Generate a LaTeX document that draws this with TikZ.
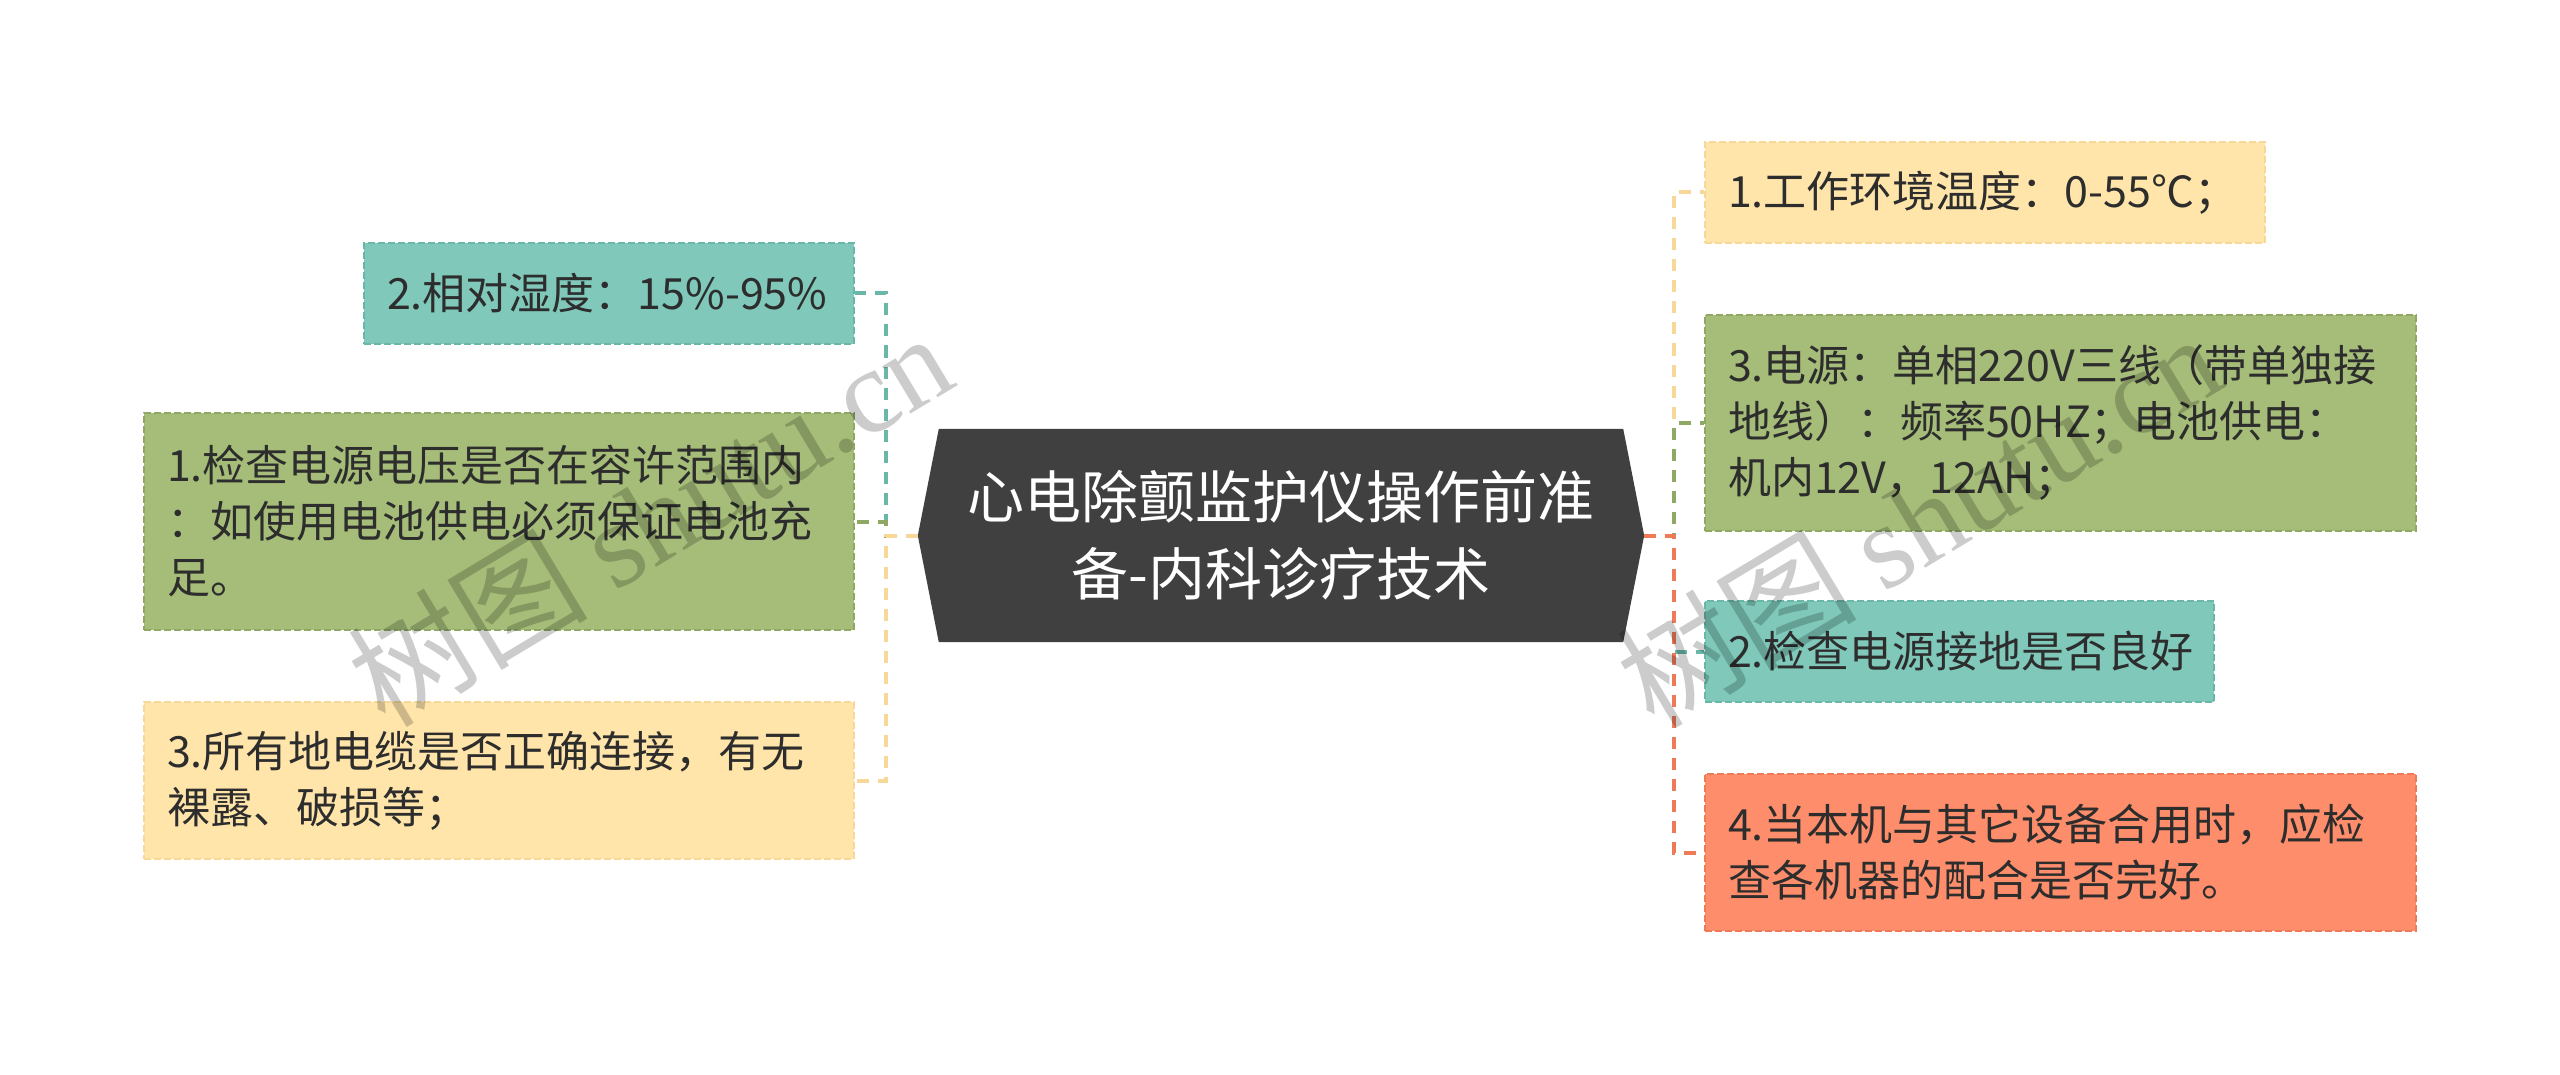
\documentclass[tikz,border=0pt]{standalone}
\usepackage{fontspec}
\setmainfont{Noto Sans CJK SC}
\newfontfamily\wmser{Liberation Serif}
\usetikzlibrary{calc,backgrounds}
\definecolor{textc}{HTML}{2D2D2D}
\definecolor{centralc}{HTML}{404040}
\definecolor{tealf}{HTML}{7FC8BA}
\definecolor{tealb}{HTML}{68B7A7}
\definecolor{greenf}{HTML}{A5BD78}
\definecolor{greenb}{HTML}{8FA964}
\definecolor{yellowf}{HTML}{FFE5AA}
\definecolor{yellowb}{HTML}{F7D898}
\definecolor{salmonf}{HTML}{FE8E6B}
\definecolor{salmonb}{HTML}{EE7A58}
\tikzset{
  box/.style={draw, line width=2pt, dash pattern=on 7pt off 3pt, text=textc,
    font=\fontsize{43}{56}\selectfont, align=left, inner xsep=23pt, inner ysep=0pt, anchor=center},
  conn/.style={line width=4pt, dash pattern=on 12pt off 9pt},
  wm/.style={text=black, opacity=0.2, rotate=31, font=\fontsize{120}{120}\selectfont},
}
\begin{document}
\begin{tikzpicture}[x=1pt,y=-1pt]
\useasboundingbox (0,0) rectangle (2560,1075);
% central
\node[minimum width=726pt, minimum height=213pt, align=center, text=white,
  font=\fontsize{57}{77}\selectfont, inner sep=0pt] (c) at (1281,535.5)
  {心电除颤监护仪操作前准\\备-内科诊疗技术};
\begin{scope}[on background layer]
\fill[centralc] ($(c.north west)+(21,0)$) -- ($(c.north east)+(-21,0)$) -- (c.east)
  -- ($(c.south east)+(-21,0)$) -- ($(c.south west)+(21,0)$) -- (c.west) -- cycle;
\end{scope}
% left boxes
\node[box, fill=tealf, draw=tealb, minimum width=490pt, text width=444pt, minimum height=101pt] (L1) at (609,293.5)
  {2.相对湿度：15\%-95\%};
\node[box, fill=greenf, draw=greenb, minimum width=710pt, text width=664pt, minimum height=217pt] (L2) at (499,521.5)
  {1.检查电源电压是否在容许范围内\\：如使用电池供电必须保证电池充\\足。};
\node[box, fill=yellowf, draw=yellowb, minimum width=710pt, text width=664pt, minimum height=157pt] (L3) at (499,780.5)
  {3.所有地电缆是否正确连接，有无\\裸露、破损等；};
% right boxes
\node[box, fill=yellowf, draw=yellowb, minimum width=560pt, text width=514pt, minimum height=101pt] (R1) at (1985,192.5)
  {1.工作环境温度：0-55℃；};
\node[box, fill=greenf, draw=greenb, minimum width=711pt, text width=665pt, minimum height=216pt] (R2) at (2060.5,423)
  {3.电源：单相220V三线（带单独接\\地线）：频率50HZ；电池供电：\\机内12V，12AH；};
\node[box, fill=tealf, draw=tealb, minimum width=509pt, text width=463pt, minimum height=101pt] (R3) at (1959.5,651.5)
  {2.检查电源接地是否良好};
\node[box, fill=salmonf, draw=salmonb, minimum width=711pt, text width=665pt, minimum height=157pt] (R4) at (2060.5,852.5)
  {4.当本机与其它设备合用时，应检\\查各机器的配合是否完好。};
% connectors left
\draw[conn, draw=tealb] (c.west) -- ++(-32,0) |- (L1.east);
\draw[conn, draw=greenb] (c.west) -- ++(-32,0) |- (L2.east);
\draw[conn, draw=yellowb] (c.west) -- ++(-32,0) |- (L3.east);
% connectors right
\draw[conn, draw=yellowb] (c.east) -- ++(30,0) |- (R1.west);
\draw[conn, draw=greenb] (c.east) -- ++(30,0) |- (R2.west);
\draw[conn, draw=tealb] (c.east) -- ++(30,0) |- (R3.west);
\draw[conn, draw=salmonb] (c.east) -- ++(30,0) |- (R4.west);
% watermarks
\node[wm] (wm1) at (649,518) {树图 {\wmser shutu.cn}};
\node[wm] (wm2) at (1918,519) {树图 {\wmser shutu.cn}};
\end{tikzpicture}
\end{document}
